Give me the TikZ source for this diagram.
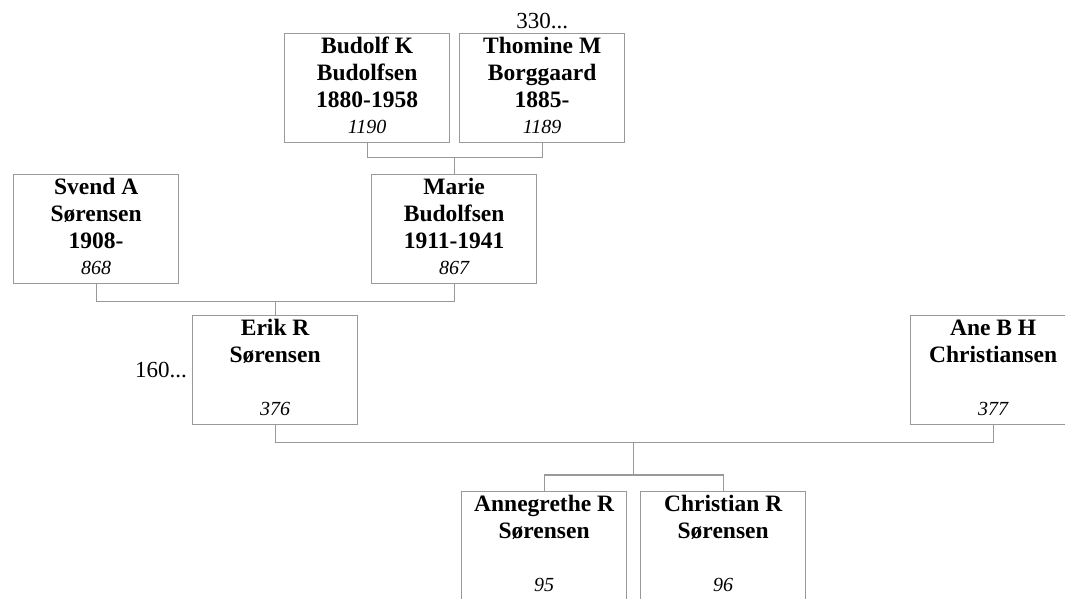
\documentclass[tikz,border=0pt]{standalone}
\usepackage{fontspec}
\setmainfont{Liberation Serif}
\usetikzlibrary{positioning, calc}
\definecolor{framegray}{HTML}{999999}
\definecolor{txtblack}{HTML}{000000}

\begin{document}
\begin{tikzpicture}[x=1pt, y=-1pt,
  person/.style={draw=framegray, line width=1.3pt, minimum width=165pt,
    minimum height=109pt, anchor=north west, inner sep=0pt},
  openbox/.style={person, minimum height=140pt},
  who/.style={anchor=north, align=center, inner sep=0pt, text=txtblack,
    font=\fontsize{23.5}{27}\selectfont\bfseries},
  refno/.style={anchor=base, inner sep=0pt, font=\fontsize{20}{24}\selectfont\itshape},
  more/.style={inner sep=0pt, font=\fontsize{23}{27}\selectfont},
  link/.style={draw=framegray, line width=1.3pt}]

% Canvas
\useasboundingbox (0,0) rectangle (1065,598);
\clip (0,0) rectangle (1065,598);

% Grandparents
\node[person] (budolf) at (284,33) {};
\node[who] (budolf-name) at ($(budolf.north)+(0,3)$) {\rule{0pt}{17pt}Budolf K\\Budolfsen\\1880-1958};
\node[refno] (budolf-no) at ($(budolf.north)+(0,100)$) {1190};

\node[person] (thomine) at (459,33) {};
\node[who] (thomine-name) at ($(thomine.north)+(0,3)$) {\rule{0pt}{17pt}Thomine M\\Borggaard\\1885-};
\node[refno] (thomine-no) at ($(thomine.north)+(0,100)$) {1189};
\node[more, anchor=base] (thomine-more) at ($(thomine.north)+(0,-5)$) {330...};

% Parents
\node[person] (svend) at (13,174) {};
\node[who] (svend-name) at ($(svend.north)+(0,3)$) {\rule{0pt}{17pt}Svend A\\Sørensen\\1908-};
\node[refno] (svend-no) at ($(svend.north)+(0,100)$) {868};

\node[person] (marie) at (371,174) {};
\node[who] (marie-name) at ($(marie.north)+(0,3)$) {\rule{0pt}{17pt}Marie\\Budolfsen\\1911-1941};
\node[refno] (marie-no) at ($(marie.north)+(0,100)$) {867};

% Couple
\node[person] (erik) at (192,315) {};
\node[who] (erik-name) at ($(erik.north)+(0,3)$) {\rule{0pt}{17pt}Erik R\\Sørensen};
\node[refno] (erik-no) at ($(erik.north)+(0,100)$) {376};
\node[more, anchor=base east] (erik-more) at (187,377) {160...};

\node[person] (ane) at (910,315) {};
\node[who] (ane-name) at ($(ane.north)+(0,3)$) {\rule{0pt}{17pt}Ane B H\\Christiansen};
\node[refno] (ane-no) at ($(ane.north)+(0,100)$) {377};

% Children (cut off at the bottom)
\node[openbox] (anne) at (461,491) {};
\node[who] (anne-name) at ($(anne.north)+(0,3)$) {\rule{0pt}{17pt}Annegrethe R\\Sørensen};
\node[refno] (anne-no) at ($(anne.north)+(0,100)$) {95};

\node[openbox] (christian) at (640,491) {};
\node[who] (christian-name) at ($(christian.north)+(0,3)$) {\rule{0pt}{17pt}Christian R\\Sørensen};
\node[refno] (christian-no) at ($(christian.north)+(0,100)$) {96};

% Connectors
\draw[link] (budolf.south) -- ++(0,14) coordinate (bar1) -| (thomine.south);
\draw[link] (marie.north) -- (marie.north |- bar1);

\draw[link] (svend.south) -- ++(0,17) coordinate (bar2) -| (marie.south);
\draw[link] (erik.north) -- (erik.north |- bar2);

\draw[link] (erik.south) -- ++(0,17) coordinate (bar3) -| (ane.south);
\draw[link] (anne.north) -- ++(0,-16) coordinate (bar4) -| (christian.north);
\coordinate (sibs) at ($(bar4)!0.5!(christian.north |- bar4)$);
\draw[link] (sibs) -- (sibs |- bar3);

\end{tikzpicture}
\end{document}
